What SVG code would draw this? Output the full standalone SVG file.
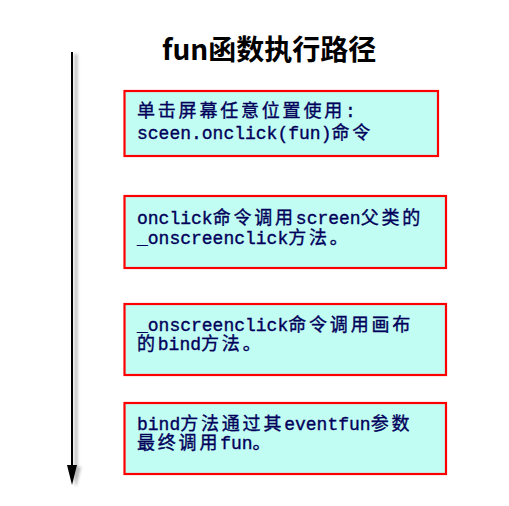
<svg xmlns="http://www.w3.org/2000/svg" width="509" height="506" viewBox="0 0 509 506">
<style>
.box{fill:#c2fdf3;stroke:#ff0000;stroke-width:2.2}
.t{font-family:"Liberation Mono","Noto Sans CJK SC",monospace;font-size:18px;fill:#00005a;stroke:#00005a;stroke-width:0.35}
.c{font-family:"Noto Sans CJK SC",sans-serif;letter-spacing:2.8px}
.title{font-family:"Noto Sans CJK SC","Noto Sans",sans-serif;font-size:28px;font-weight:bold;fill:#000}
</style>
<defs>
<filter id="sh" x="-50%" y="-5%" width="200%" height="110%">
<feGaussianBlur stdDeviation="1.5"/>
</filter>
</defs>
<rect width="509" height="506" fill="#fff"/>
<g id="title"><text class="title" x="162" y="60">fun函数执行路径</text></g>
<g id="connectors">
<g opacity="0.45" filter="url(#sh)" transform="translate(4,2)">
<line x1="72" y1="52" x2="72" y2="470" stroke="#666" stroke-width="3"/>
<polygon points="67,465 77,465 72,485" fill="#666"/>
</g>
<line x1="72" y1="52" x2="72" y2="470" stroke="#000" stroke-width="2"/>
<polygon points="67,465 77,465 72,485" fill="#000"/>
</g>
<g id="n1">
<rect class="box" x="124.5" y="91" width="313.5" height="65"/>
<text class="t" x="137" y="117"><tspan class="c">单击屏幕任意位置使用</tspan>:<tspan x="137" y="139">sceen.onclick(fun)</tspan><tspan class="c">命令</tspan></text>
</g>
<g id="n2">
<rect class="box" x="124.5" y="196" width="321.5" height="72"/>
<text class="t" x="137" y="224">onclick<tspan class="c">命令调用</tspan>screen<tspan class="c">父类的</tspan><tspan x="137" y="244">_onscreenclick</tspan><tspan class="c">方法。</tspan></text>
</g>
<g id="n3">
<rect class="box" x="124.5" y="304" width="321.5" height="71"/>
<text class="t" x="137" y="331">_onscreenclick<tspan class="c">命令调用画布</tspan><tspan class="c" x="137" y="350">的</tspan>bind<tspan class="c">方法。</tspan></text>
</g>
<g id="n4">
<rect class="box" x="124.5" y="403" width="321.5" height="71"/>
<text class="t" x="137" y="430">bind<tspan class="c">方法通过其</tspan>eventfun<tspan class="c">参数</tspan><tspan class="c" x="137" y="449">最终调用</tspan>fun<tspan class="c">。</tspan></text>
</g>
</svg>
